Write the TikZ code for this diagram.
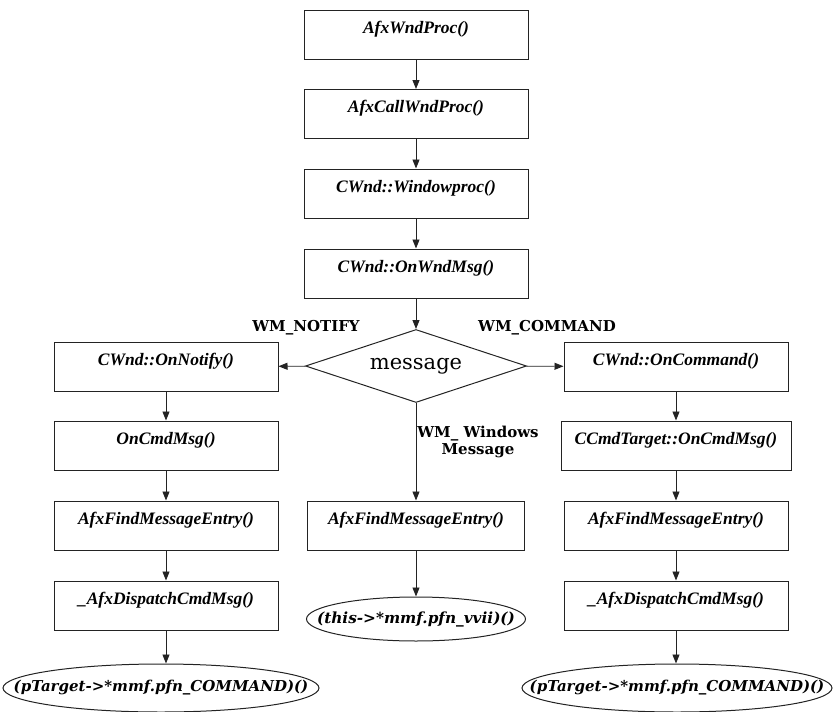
\documentclass[tikz,border=0pt]{standalone}
\usepackage{fontspec}
\setmainfont{Liberation Serif}
\newfontfamily\labelfont{DejaVu Serif}
\usepackage{tikz}
\usetikzlibrary{arrows.meta, positioning, shapes.geometric, calc}
\definecolor{flowInk}{RGB}{35,35,35}

\begin{document}
\begin{tikzpicture}[
    x=1pt, y=-1pt,
    procbox/.style  = {draw=flowInk, line width=1pt, rectangle,
                       minimum width=#1, inner xsep=10pt, inner ysep=0pt,
                       text height=23pt, text depth=26pt,
                       font=\fontsize{17.5}{20}\selectfont\bfseries\itshape},
    procbox/.default = 224pt,
    decision/.style = {draw=flowInk, line width=1pt, diamond, aspect=3,
                       minimum width=221pt, minimum height=73pt, inner sep=0pt,
                       font=\labelfont\fontsize{21}{24}\selectfont},
    handler/.style  = {draw=flowInk, line width=1pt, ellipse, inner sep=0pt,
                       minimum width=#1, minimum height=48pt,
                       font=\labelfont\fontsize{15}{18}\selectfont\bfseries\itshape},
    msglabel/.style = {font=\labelfont\fontsize{15}{17}\selectfont\bfseries,
                       align=center, inner sep=1pt},
    flow/.style     = {-{Triangle[length=9pt,width=7pt]}, line width=0.9pt,
                       draw=flowInk}
]
\useasboundingbox (0,0) rectangle (833,712);

% Window procedure chain down to the message switch
\node[procbox] (wndproc)  at (416,34.5)  {AfxWndProc()};
\node[procbox] (callwnd)  at (416,114)   {AfxCallWndProc()};
\node[procbox] (winproc)  at (416,193.5) {CWnd::Windowproc()};
\node[procbox] (onwndmsg) at (416,273.5) {CWnd::OnWndMsg()};
\node[decision] (msg)     at (416,366)   {message};

\draw[flow] (wndproc) -- (callwnd);
\draw[flow] (callwnd) -- (winproc);
\draw[flow] (winproc) -- (onwndmsg);
\draw[flow] (onwndmsg) -- (msg);

% Branch labels
\node[msglabel] (notifylbl) at (306,328) {WM\_NOTIFY};
\node[msglabel] (cmdlbl)    at (547,328) {WM\_COMMAND};
\node[msglabel] (winlbl)    at (478,442) {WM\_ Windows\\Message};

% WM_NOTIFY branch (left)
\node[procbox] (notify)    at (166,366.5) {CWnd::OnNotify()};
\node[procbox] (lcmdmsg)   at (166,445.5) {OnCmdMsg()};
\node[procbox] (lfind)     at (166,525.5) {AfxFindMessageEntry()};
\node[procbox] (ldispatch) at (166,605.5) {\_AfxDispatchCmdMsg()};
\node[handler=316pt] (lcall) at (161,688)
    {\makebox[0pt]{(pTarget->*mmf.pfn\_COMMAND)()}};

\draw[flow] (msg) -- (notify);
\draw[flow] (notify) -- (lcmdmsg);
\draw[flow] (lcmdmsg) -- (lfind);
\draw[flow] (lfind) -- (ldispatch);
\draw[flow] (ldispatch) -- (ldispatch |- lcall.north);

% Ordinary window messages (middle)
\node[procbox=217pt] (mfind) at (416,525.5) {AfxFindMessageEntry()};
\node[handler=219pt, minimum height=44pt] (mcall) at (416,619)
    {\makebox[0pt]{\fontsize{15.3}{18}\selectfont(this->*mmf.pfn\_vvii)()}};

\draw[flow] (msg) -- (mfind);
\draw[flow] (mfind) -- (mcall);

% WM_COMMAND branch (right)
\node[procbox] (command)   at (676,366.5) {CWnd::OnCommand()};
\node[procbox=230pt] (rcmdmsg) at (676,445.5) {CCmdTarget::OnCmdMsg()};
\node[procbox] (rfind)     at (676,525.5) {AfxFindMessageEntry()};
\node[procbox] (rdispatch) at (676,605.5) {\_AfxDispatchCmdMsg()};
\node[handler=310pt] (rcall) at (677,688)
    {\makebox[0pt]{(pTarget->*mmf.pfn\_COMMAND)()}};

\draw[flow] (msg) -- (command);
\draw[flow] (command) -- (rcmdmsg);
\draw[flow] (rcmdmsg) -- (rfind);
\draw[flow] (rfind) -- (rdispatch);
\draw[flow] (rdispatch) -- (rdispatch |- rcall.north);

\end{tikzpicture}
\end{document}
